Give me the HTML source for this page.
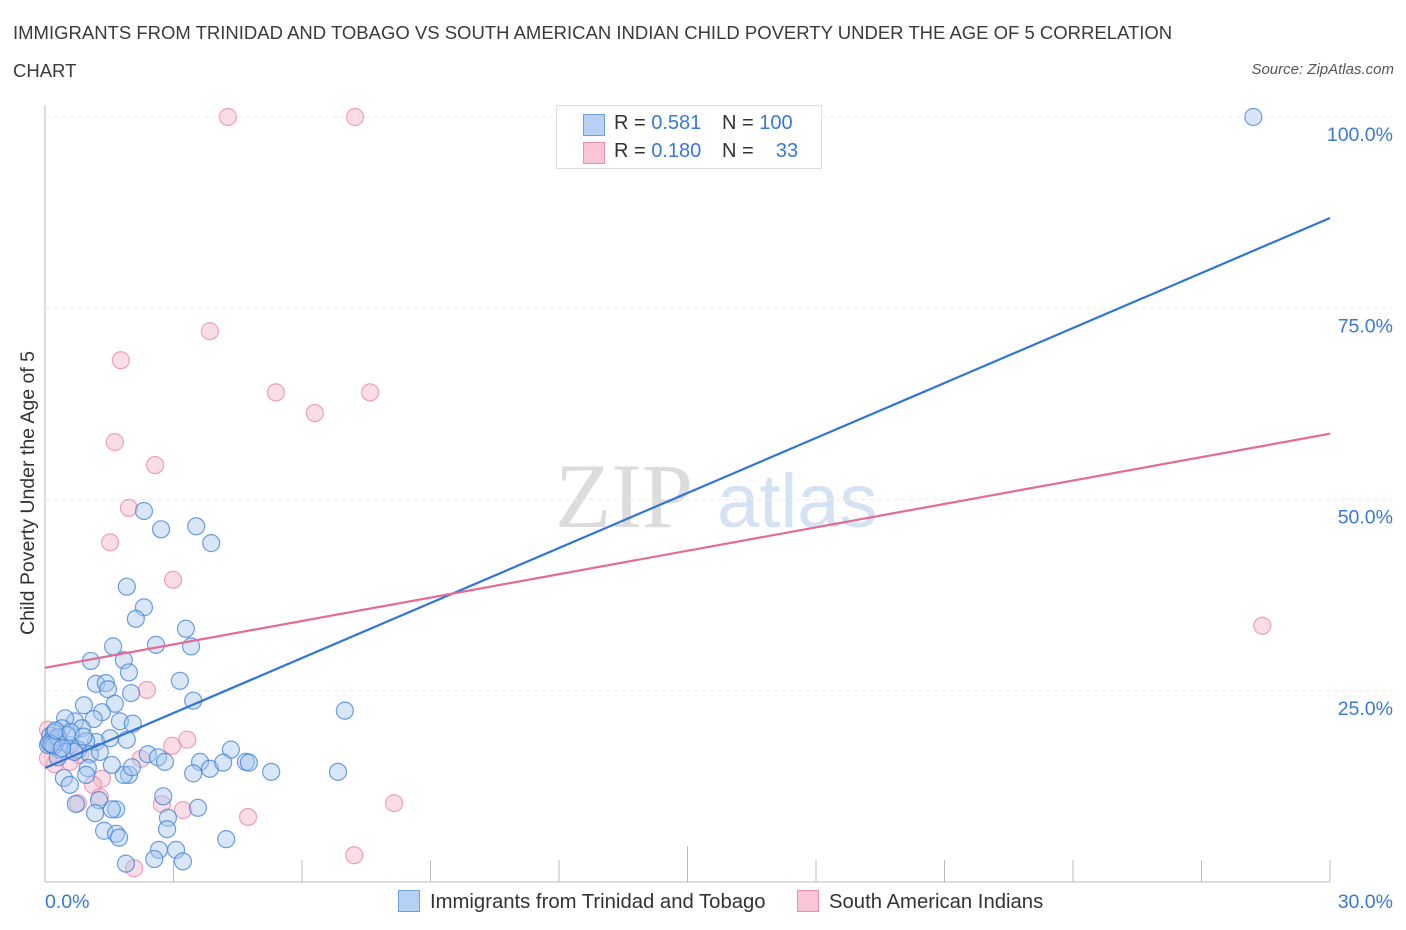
<!DOCTYPE html>
<html><head><meta charset="utf-8">
<style>
body{margin:0;background:#fff;font-family:"Liberation Sans",sans-serif;}
#wrap{position:relative;width:1406px;height:930px;overflow:hidden;}
.t{position:absolute;white-space:nowrap;}
</style></head>
<body>
<div id="wrap">
<div class="t" style="left:13px;top:14px;font-size:18.5px;color:#3a3a3a;line-height:38px;width:1185px;white-space:normal">IMMIGRANTS FROM TRINIDAD AND TOBAGO VS SOUTH AMERICAN INDIAN CHILD POVERTY UNDER THE AGE OF 5 CORRELATION CHART</div>
<div class="t" style="right:12px;top:61px;font-size:15px;color:#555;font-style:italic">Source: ZipAtlas.com</div>
<svg id="svg" width="1406" height="930" style="position:absolute;left:0;top:0"></svg>
</div>
<script>
const blueX=[2.31,2.71,3.53,3.88,1.91,2.31,2.12,3.29,2.59,3.41,1.59,1.07,1.84,1.19,1.42,1.47,2.01,3.46,3.15,1.96,0.91,1.63,1.33,1.14,1.75,0.70,0.47,2.05,0.40,0.86,1.52,1.91,1.19,0.96,0.58,0.26,0.16,0.12,0.07,0.21,0.77,1.05,2.40,2.64,2.80,3.62,4.34,3.85,3.46,4.69,4.76,5.28,6.84,4.16,1.96,1.84,1.00,0.44,0.58,0.96,1.26,0.72,2.76,2.87,1.66,1.56,3.57,1.17,2.85,1.38,1.66,1.73,4.23,2.66,3.06,2.55,3.22,1.89,7.00,28.21,0.35,0.51,0.68,0.30,1.28,1.56,2.03,0.1,0.2,0.3,0.15,0.4,0.25,0.6,0.9];
const blueY=[48.5,46.1,46.5,44.3,38.6,35.9,34.4,33.1,31.0,30.8,30.8,28.9,29.0,25.9,26.0,25.2,24.7,23.7,26.3,27.4,23.1,23.3,22.2,21.3,21.0,21.0,21.4,20.7,20.1,20.1,18.8,18.6,18.3,18.4,17.9,18.3,18.6,19.1,17.9,19.5,17.3,16.7,16.7,16.3,15.7,15.7,17.3,14.8,14.2,15.7,15.6,14.4,14.4,15.6,14.0,14.0,14.9,13.6,12.7,14.0,10.7,10.2,11.2,8.4,9.5,9.5,9.7,9.0,6.9,6.7,6.3,5.8,5.6,4.2,4.2,3.0,2.7,2.4,22.4,100,17.3,19.2,17.0,16.3,17.0,15.3,15.0,18.2,17.8,18.9,18.0,17.5,19.8,19.6,19.0];
const pinkX=[4.27,7.24,3.85,1.77,5.39,7.59,6.30,1.63,2.57,1.96,1.52,2.99,2.38,3.32,2.97,2.24,1.33,1.12,0.77,2.73,3.22,4.74,8.15,7.22,2.08,28.42,0.23,0.58,0.07,0.82,1.28,0.30,0.07];
const pinkY=[100,100,72.0,68.2,64.0,64.0,61.3,57.5,54.5,48.9,44.4,39.5,25.1,18.6,17.8,16.1,13.5,12.7,10.3,10.2,9.4,8.5,10.3,3.5,1.8,33.5,15.4,15.7,16.2,16.6,11.1,18.8,19.9];
const blueTrend=[14.9,86.8];
const pinkTrend=[28.0,58.6];
const yTicks=[25,50,75,100];
const yTickLabels=["25.0%","50.0%","75.0%","100.0%"];
const xTickLabels=["0.0%","30.0%"];

const NS="http://www.w3.org/2000/svg";
const svg=document.getElementById('svg');
const X0=45,X1=1330,Y0=882,Y1=117;
const sx=v=>X0+(v/30)*(X1-X0);
const sy=v=>Y0-(v/100)*(Y0-Y1);
function mk(tag,attrs,parent){const e=document.createElementNS(NS,tag);for(const k in attrs)e.setAttribute(k,attrs[k]);(parent||svg).appendChild(e);return e;}

let wm=mk('text',{x:555,y:527,'font-size':92,'font-family':'Liberation Serif',fill:'#dcdcdc'});


wm.textContent='ZIP';
let wm2=mk('text',{x:717,y:527,'font-size':76,'font-family':'Liberation Sans',fill:'#d4e2f4'});


wm2.textContent='atlas';

yTicks.forEach((t,i)=>{
  const g=mk('line',{x1:X0,x2:1392,y1:sy(t),y2:sy(t),stroke:'#ebebeb','stroke-dasharray':'4,4'});
  
  
  const l=mk('text',{x:1393,y:sy(t)+24,'text-anchor':'end','font-size':19.5,fill:'#3a78d4'});
  
  
  l.textContent=yTickLabels[i];
});
let ax=mk('line',{x1:X0,x2:X0,y1:105,y2:Y0,stroke:'#bbb'});


let axx=mk('line',{x1:X0,x2:X1,y1:Y0,y2:Y0,stroke:'#bbb'});


for(let i=1;i<=10;i++){
  const x=sx(i*3);
  const tk=mk('line',{x1:x,x2:x,y1:i==5?846:860,y2:Y0,stroke:'#bbb'});
  
  
}
let xl0=mk('text',{x:45,y:908,'font-size':19.5,fill:'#3a78d4'});


xl0.textContent=xTickLabels[0];
let xl1=mk('text',{x:1393,y:908,'text-anchor':'end','font-size':19.5,fill:'#3a78d4'});


xl1.textContent=xTickLabels[1];
let yt=mk('text',{x:34,y:493,'text-anchor':'middle','font-size':19.5,fill:'#333',transform:'rotate(-90 34 493)'});


yt.textContent='Child Poverty Under the Age of 5';

function pts(xs,ys,fill,stroke,name){
  xs.forEach((x,i)=>{
    const c=mk('circle',{cx:sx(x),cy:sy(ys[i]),r:8.5,fill:fill,'fill-opacity':0.45,stroke:stroke,'stroke-opacity':0.75,'stroke-width':1.2});
    
    
  });
}
pts(pinkX,pinkY,'#f5b3c7','#e886a5','point-south-american-indian');
pts(blueX,blueY,'#a8c8f0','#3f7fd6','point-trinidad-tobago');

let bl=mk('line',{x1:sx(0),y1:sy(blueTrend[0]),x2:sx(30),y2:sy(blueTrend[1]),stroke:'#2f74d8','stroke-width':2.2});


let pl=mk('line',{x1:sx(0),y1:sy(pinkTrend[0]),x2:sx(30),y2:sy(pinkTrend[1]),stroke:'#e56a95','stroke-width':2.2});


</script>
<div class="t" style="left:556px;top:105px;width:264px;height:62px;border:1px solid #ddd;background:#fff;font-size:20px;color:#333">
 <div style="position:absolute;left:26px;top:8px;width:20px;height:20px;background:#b8d2f5;border:1px solid #6e9fe0"></div>
 <div style="position:absolute;left:26px;top:36px;width:20px;height:20px;background:#fac6d6;border:1px solid #ea8faf"></div>
 <div style="position:absolute;left:57px;top:6px">R = <span style="color:#3a78d4">0.581</span></div>
 <div style="position:absolute;left:165px;top:6px">N = <span style="color:#3a78d4">100</span></div>
 <div style="position:absolute;left:57px;top:34px">R = <span style="color:#3a78d4">0.180</span></div>
 <div style="position:absolute;left:165px;top:34px">N = <span style="color:#3a78d4">&nbsp;&nbsp;&nbsp;33</span></div>
</div>
<div class="t" style="left:398px;top:890px;font-size:20.3px;color:#333">
 <span style="display:inline-block;width:20px;height:20px;background:#b8d2f5;border:1px solid #6e9fe0;vertical-align:-4px;margin-right:10px"></span>Immigrants from Trinidad and Tobago</div>
<div class="t" style="left:797px;top:890px;font-size:20.3px;color:#333">
 <span style="display:inline-block;width:20px;height:20px;background:#fac6d6;border:1px solid #ea8faf;vertical-align:-4px;margin-right:10px"></span>South American Indians</div>
</body></html>
